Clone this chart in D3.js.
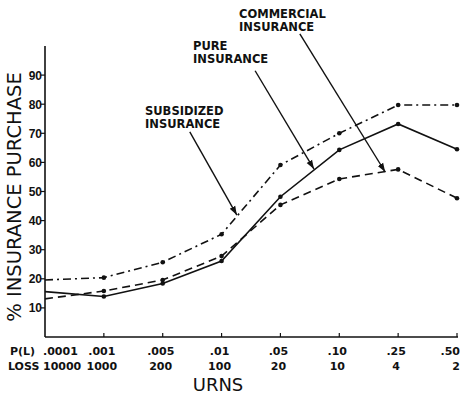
<!DOCTYPE html>
<html>
<head>
<meta charset="utf-8">
<script src="https://cdn.jsdelivr.net/npm/d3@7"></script>
<style>
  body { margin: 0; background: #fff; }
  svg { display: block; }
  text { fill: #111; }
</style>
</head>
<body>
<div id="chart"></div>
<script>
// categories: probability of loss and loss amount (in urns)
var probLoss = [".0001", ".001", ".005", ".01", ".05", ".10", ".25", ".50"];
var lossAmount = ["10000", "1000", "200", "100", "20", "10", "4", "2"];
var yTicks = [10, 20, 30, 40, 50, 60, 70, 80, 90];

// % insurance purchase per condition
var pureInsurance = [15.6, 13.9, 18.4, 26.1, 48.2, 64.3, 73.2, 64.5];
var commercialInsurance = [13.1, 15.8, 19.6, 27.8, 45.4, 54.3, 57.6, 47.7];
var subsidizedInsurance = [19.6, 20.4, 25.7, 35.3, 59.1, 70.0, 79.7, 79.7];

var chartW = 461, chartH = 394;
var plotLeft = 45, plotRight = 457, plotTop = 46, plotBottom = 337;

var svg = d3.select("#chart").append("svg")
    .attr("width", chartW).attr("height", chartH);

var x = d3.scalePoint().domain(d3.range(probLoss.length)).range([plotLeft, plotRight]);
var xi = d3.scaleLinear().domain([0, probLoss.length - 1]).range([plotLeft, plotRight]);
var y = d3.scaleLinear().domain([0, 100]).range([plotBottom, plotTop]);

var ink = "#111";

// axes
svg.append("line").attr("x1", plotLeft).attr("x2", plotLeft).attr("y1", y(100)).attr("y2", y(0))
    .attr("stroke", ink).attr("stroke-width", 1.6);
svg.append("line").attr("x1", plotLeft).attr("x2", plotRight + 1).attr("y1", y(0)).attr("y2", y(0))
    .attr("stroke", ink).attr("stroke-width", 1.6);

svg.selectAll(".ytick").data(yTicks).enter().append("line")
    .attr("x1", plotLeft - 4).attr("x2", plotLeft).attr("y1", function(d){ return y(d); }).attr("y2", function(d){ return y(d); })
    .attr("stroke", ink).attr("stroke-width", 1.2);
svg.selectAll(".ylab").data(yTicks).enter().append("text")
    .attr("x", plotLeft - 3).attr("y", function(d){ return y(d) + 4.5; })
    .attr("text-anchor", "end")
    .style("font", "bold 12px 'Liberation Sans', sans-serif")
    .text(function(d){ return d; });

svg.selectAll(".xtick").data(d3.range(1, probLoss.length)).enter().append("line")
    .attr("x1", function(d){ return x(d); }).attr("x2", function(d){ return x(d); })
    .attr("y1", y(0) - 4).attr("y2", y(0))
    .attr("stroke", ink).attr("stroke-width", 1.2);

var tickFont = "bold 11px 'DejaVu Sans', sans-serif";
var last = probLoss.length - 1;
function tickRow(labels, yy){
    svg.selectAll(null).data(labels).enter().append("text")
        .attr("x", function(d, i){ return i === last ? chartW - 1 : x(i) - 2; })
        .attr("y", yy)
        .attr("text-anchor", function(d, i){ return i === 0 ? "start" : (i === last ? "end" : "middle"); })
        .style("font", tickFont)
        .text(function(d){ return d; });
}
tickRow(probLoss, 355);
tickRow(lossAmount, 370);

svg.append("text").attr("x", 10).attr("y", 355).style("font", tickFont).text("P(L)");
svg.append("text").attr("x", 8).attr("y", 370).style("font", tickFont).text("LOSS");

svg.append("text").attr("x", 218).attr("y", 391).attr("text-anchor", "middle")
    .style("font", "18px 'DejaVu Sans', sans-serif").text("URNS");

svg.append("text")
    .attr("transform", "translate(21,197) rotate(-90)")
    .attr("text-anchor", "middle")
    .style("font", "19.5px 'DejaVu Sans', sans-serif")
    .text("% INSURANCE PURCHASE");

// series
var series = [
    {name: "subsidized", values: subsidizedInsurance, dash: "8,4,2,4"},
    {name: "commercial", values: commercialInsurance, dash: "8,5"},
    {name: "pure", values: pureInsurance, dash: null}
];

var line = d3.line().x(function(d, i){ return x(i); }).y(function(d){ return y(d); });

series.forEach(function(s){
    svg.append("path").datum(s.values)
        .attr("d", line)
        .attr("fill", "none")
        .attr("stroke", ink)
        .attr("stroke-width", 1.6)
        .attr("stroke-dasharray", s.dash);
    svg.selectAll(null).data(s.values.slice(1)).enter().append("circle")
        .attr("cx", function(d, i){ return x(i + 1); })
        .attr("cy", function(d){ return y(d); })
        .attr("r", 2.3)
        .attr("fill", ink);
});

// annotations: arrow from label to the curve (positions in category index / value)
var annotations = [
    {lines: ["SUBSIDIZED", "INSURANCE"], tx: 145, ty: 115, from: [2.46, 70.5], to: [3.26, 41.9]},
    {lines: ["PURE", "INSURANCE"], tx: 193, ty: 50, from: [3.57, 91.5], to: [4.57, 57.7]},
    {lines: ["COMMERCIAL", "INSURANCE"], tx: 239, ty: 18, from: [4.33, 104.2], to: [5.78, 56.7]}
];

svg.append("defs").append("marker")
    .attr("id", "arrow").attr("viewBox", "0 0 10 10")
    .attr("refX", 10).attr("refY", 5)
    .attr("markerWidth", 9).attr("markerHeight", 9)
    .attr("markerUnits", "userSpaceOnUse")
    .attr("orient", "auto")
    .append("path").attr("d", "M0,1.5L10,5L0,8.5Z").attr("fill", ink);

annotations.forEach(function(a){
    svg.append("line")
        .attr("x1", xi(a.from[0])).attr("y1", y(a.from[1]))
        .attr("x2", xi(a.to[0])).attr("y2", y(a.to[1]))
        .attr("stroke", ink).attr("stroke-width", 1.4)
        .attr("marker-end", "url(#arrow)");
    a.lines.forEach(function(t, k){
        svg.append("text").attr("x", a.tx).attr("y", a.ty + k * 13)
            .style("font", "bold 11.5px 'DejaVu Sans', sans-serif")
            .text(t);
    });
});
</script>
</body>
</html>
